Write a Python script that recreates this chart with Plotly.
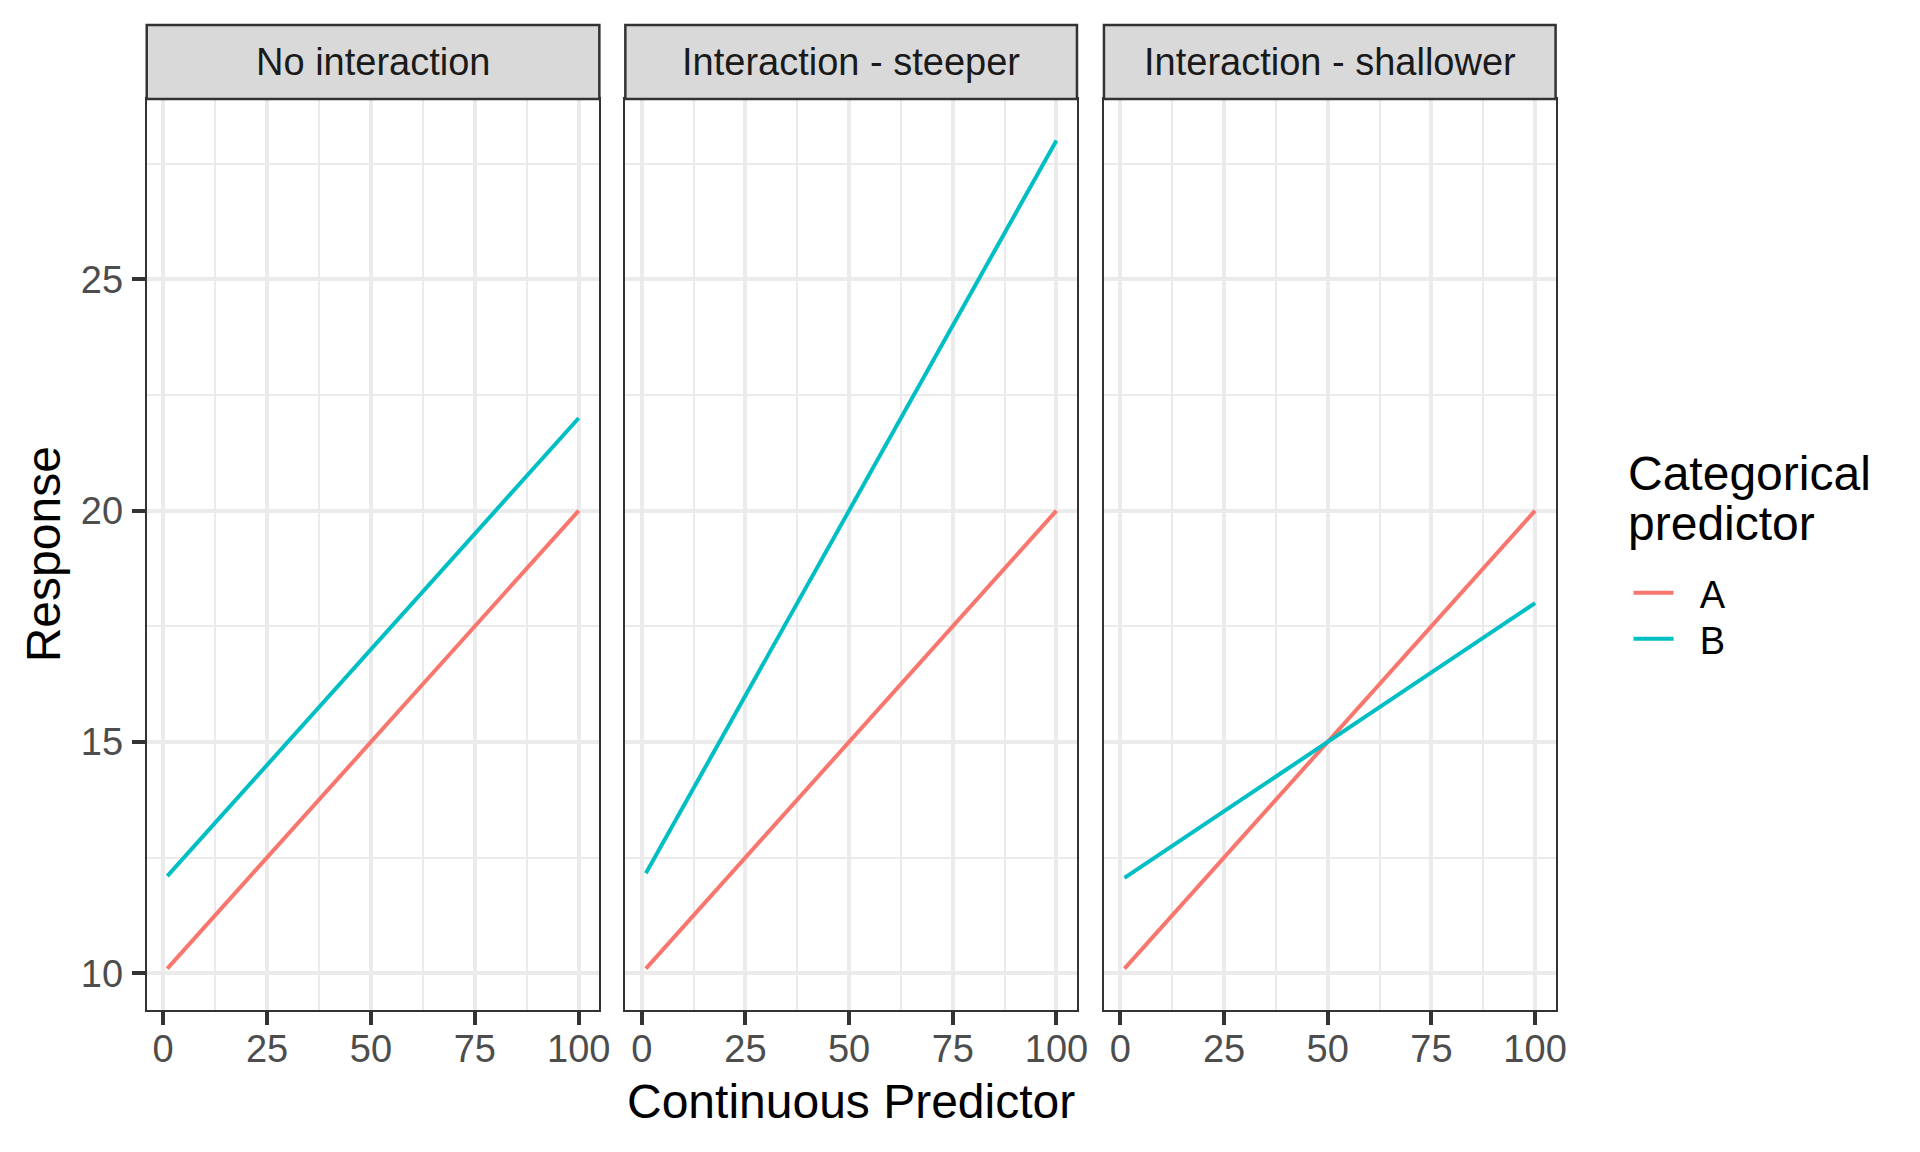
import plotly.graph_objects as go

# ---- data ----
facets = ["No interaction", "Interaction - steeper", "Interaction - shallower"]
groups = ["A", "B"]
x_vals = [1, 100]
a_no = [10.1, 20.0]
b_no = [12.1, 22.0]
a_steep = [10.1, 20.0]
b_steep = [12.16, 28.0]
a_shallow = [10.1, 20.0]
b_shallow = [12.06, 18.0]
x_ticks = [0, 25, 50, 75, 100]
y_ticks = [10, 15, 20, 25]

series = {
    "No interaction": {"A": a_no, "B": b_no},
    "Interaction - steeper": {"A": a_steep, "B": b_steep},
    "Interaction - shallower": {"A": a_shallow, "B": b_shallow},
}
colors = {"A": "#F8766D", "B": "#00BFC4"}

# page body has an 8px margin; keep the figure a bit smaller than the window
W, H = 1896, 1128
OFF = 8
XS = 0.995  # observed horizontal scale of the rendered page
FONT = "Liberation Sans"

# panel geometry in screenshot pixels
panels_x = [(146, 599), (625, 1077), (1104, 1556)]
panel_top, panel_bot = 99, 1010
strip_top = 25


def px_x(p):
    return ((p + 0.8) / XS - OFF) / W


def px_y(p):
    return 1 - (p - OFF) / H


fig = go.Figure()

legend_ids = {"A": "legend", "B": "legend2"}
for i, f in enumerate(facets):
    ax = "" if i == 0 else str(i + 1)
    for g in groups:
        fig.add_trace(go.Scatter(
            x=x_vals, y=series[f][g], mode="lines",
            line=dict(color=colors[g], width=4),
            name="\u00a0\u00a0" + g, legendgroup=g, showlegend=(i == 0),
            legend=legend_ids[g],
            xaxis="x" + ax, yaxis="y" + ax,
        ))

# data ranges with 5% expansion (ggplot style)
all_y = a_no + b_no + a_steep + b_steep + a_shallow + b_shallow
ymin, ymax = min(all_y), max(all_y)
yr = [ymin - 0.05 * (ymax - ymin), ymax + 0.05 * (ymax - ymin)]
xmin, xmax = min(x_vals), max(x_vals)
xr = [xmin - 0.05 * (xmax - xmin), xmax + 0.05 * (xmax - xmin)]

x_minor = [(x_ticks[k] + x_ticks[k + 1]) / 2 for k in range(len(x_ticks) - 1)]
y_minor = [(y_ticks[k] + y_ticks[k + 1]) / 2 for k in range(len(y_ticks) - 1)] + [y_ticks[-1] + 2.5]

leg_common = dict(
    xanchor="left", yanchor="middle",
    font=dict(size=38, family=FONT, color="black"),
    bgcolor="rgba(0,0,0,0)", borderwidth=0,
    itemwidth=40, tracegroupgap=0,
)

layout = dict(
    width=W, height=H,
    margin=dict(l=0, r=0, t=0, b=0),
    paper_bgcolor="white", plot_bgcolor="white",
    font=dict(family=FONT, color="black"),
    showlegend=True,
    legend=dict(x=px_x(1629), y=px_y(593), **leg_common),
    legend2=dict(x=px_x(1629), y=px_y(639), **leg_common),
)

grid_col = "#EBEBEB"
for i, (x0, x1) in enumerate(panels_x):
    ax = "" if i == 0 else str(i + 1)
    layout["xaxis" + ax] = dict(
        domain=[px_x(x0), px_x(x1)], range=xr, anchor="y" + ax,
        tickvals=x_ticks, ticktext=[str(t) for t in x_ticks],
        ticks="outside", ticklen=13, tickwidth=4, tickcolor="#333333",
        tickfont=dict(size=38, color="#4D4D4D", family=FONT),
        ticklabelstandoff=-9,
        showgrid=True, gridcolor=grid_col, gridwidth=4,
        minor=dict(tickvals=x_minor, showgrid=True, gridcolor=grid_col, gridwidth=2, ticks=""),
        showline=True, mirror=True, linecolor="#333333", linewidth=2,
        zeroline=False, fixedrange=True,
    )
    layout["yaxis" + ax] = dict(
        domain=[px_y(panel_bot), px_y(panel_top)], range=yr, anchor="x" + ax,
        tickvals=y_ticks, ticktext=[str(t) for t in y_ticks],
        showticklabels=(i == 0),
        ticks="outside" if i == 0 else "", ticklen=13, tickwidth=4, tickcolor="#333333",
        tickfont=dict(size=38, color="#4D4D4D", family=FONT),
        ticklabelstandoff=1,
        showgrid=True, gridcolor=grid_col, gridwidth=4,
        minor=dict(tickvals=y_minor, showgrid=True, gridcolor=grid_col, gridwidth=2, ticks=""),
        showline=True, mirror=True, linecolor="#333333", linewidth=2,
        zeroline=False, fixedrange=True,
    )

shapes = []
annotations = []
for i, (x0, x1) in enumerate(panels_x):
    shapes.append(dict(
        type="rect", xref="paper", yref="paper",
        x0=px_x(x0), x1=px_x(x1), y0=px_y(panel_top), y1=px_y(strip_top),
        fillcolor="#D9D9D9", line=dict(color="#333333", width=2.5), layer="above",
    ))
    annotations.append(dict(
        text=facets[i], xref="paper", yref="paper",
        x=px_x((x0 + x1) / 2), y=px_y((strip_top + panel_top) / 2),
        xanchor="center", yanchor="middle", showarrow=False,
        font=dict(size=38, color="#1A1A1A", family=FONT),
    ))

annotations.append(dict(
    text="Continuous Predictor", xref="paper", yref="paper",
    x=px_x((panels_x[0][0] + panels_x[-1][1]) / 2), y=px_y(1101),
    xanchor="center", yanchor="middle", showarrow=False,
    font=dict(size=48, color="black", family=FONT),
))
annotations.append(dict(
    text="Response", xref="paper", yref="paper",
    x=px_x(43), y=px_y((panel_top + panel_bot) / 2), textangle=-90,
    xanchor="center", yanchor="middle", showarrow=False,
    font=dict(size=48, color="black", family=FONT),
))
# legend title (two lines, ggplot-like tight line spacing)
for txt, yc in [("Categorical", 473), ("predictor", 524)]:
    annotations.append(dict(
        text=txt, xref="paper", yref="paper",
        x=px_x(1626), y=px_y(yc),
        xanchor="left", yanchor="middle", showarrow=False,
        font=dict(size=48, color="black", family=FONT),
    ))

layout["shapes"] = shapes
layout["annotations"] = annotations
fig.update_layout(**layout)
fig.write_html("out.html")
